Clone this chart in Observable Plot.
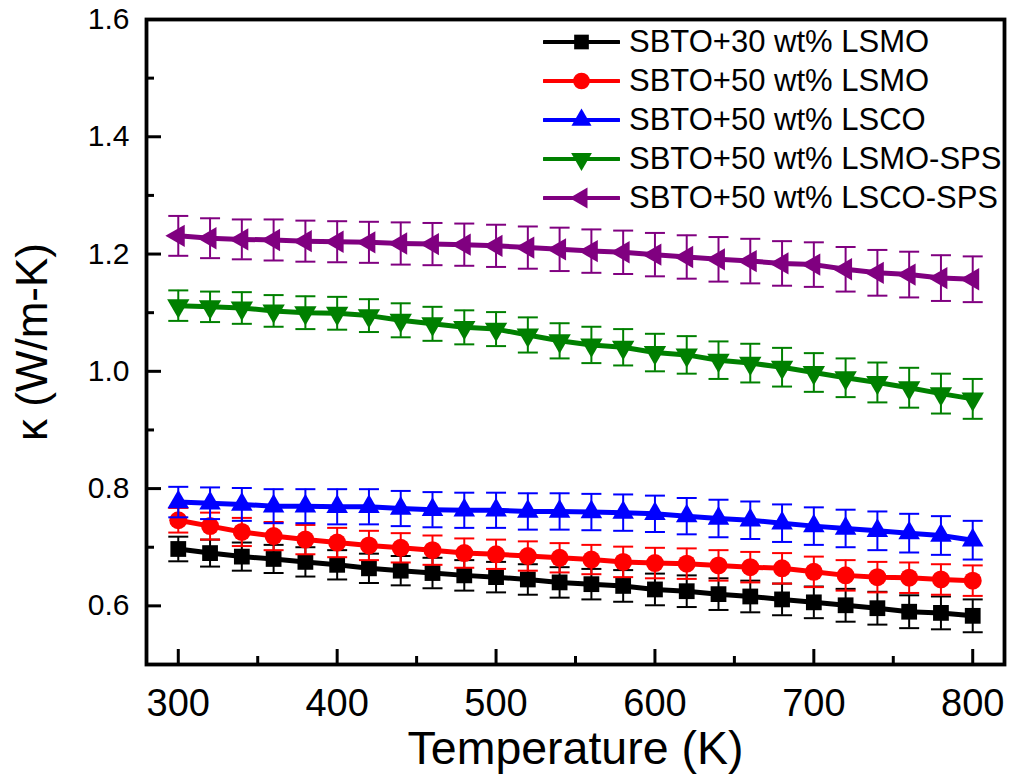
<!DOCTYPE html>
<html>
<head>
<meta charset="utf-8">
<script src="https://cdn.jsdelivr.net/npm/d3@7"></script>
<script src="https://cdn.jsdelivr.net/npm/@observablehq/plot@0.6"></script>
<style>
  html, body { margin: 0; padding: 0; background: #fff; }
  #wrap { position: relative; width: 1011px; height: 782px; font-family: "Liberation Sans", Arial, sans-serif; }
  #legend { position: absolute; left: 543px; top: 22px; }
  .row { display: flex; align-items: center; height: 39px; }
  .row span { font-size: 31px; margin-left: 9px; color: #000; white-space: nowrap; }
</style>
</head>
<body>
<div id="wrap"><div id="legend"></div></div>
<script>
// ---- data ----
const temperature = [300,320,340,360,380,400,420,440,460,480,500,520,540,560,580,600,620,640,660,680,700,720,740,760,780,800];

const seriesNames = ["SBTO+30 wt% LSMO","SBTO+50 wt% LSMO","SBTO+50 wt% LSCO","SBTO+50 wt% LSMO-SPS","SBTO+50 wt% LSCO-SPS"];
const seriesColors = ["#000000","#ff0000","#0000ff","#008000","#800080"];

const kLSMO30 = [0.697,0.690,0.684,0.680,0.675,0.670,0.664,0.660,0.656,0.652,0.649,0.645,0.640,0.637,0.634,0.628,0.625,0.620,0.616,0.611,0.606,0.601,0.596,0.590,0.588,0.583];
const eLSMO30 = [0.021,0.023,0.024,0.024,0.025,0.025,0.025,0.025,0.026,0.026,0.026,0.026,0.026,0.026,0.027,0.027,0.027,0.027,0.027,0.027,0.027,0.028,0.028,0.028,0.028,0.028];

const kLSMO50 = [0.746,0.736,0.726,0.719,0.713,0.708,0.703,0.699,0.695,0.690,0.688,0.685,0.682,0.679,0.675,0.673,0.672,0.669,0.666,0.664,0.658,0.652,0.649,0.648,0.645,0.643];
const eLSMO50 = [0.021,0.023,0.024,0.024,0.025,0.025,0.025,0.025,0.025,0.025,0.025,0.025,0.025,0.025,0.026,0.026,0.026,0.026,0.026,0.026,0.026,0.026,0.026,0.026,0.026,0.026];

const kLSCO50 = [0.777,0.775,0.773,0.770,0.770,0.769,0.769,0.766,0.764,0.763,0.763,0.761,0.761,0.760,0.759,0.757,0.753,0.749,0.746,0.741,0.736,0.732,0.728,0.724,0.720,0.712];
const eLSCO50 = [0.026,0.027,0.028,0.029,0.029,0.030,0.030,0.030,0.030,0.030,0.030,0.031,0.031,0.031,0.031,0.031,0.031,0.032,0.032,0.032,0.032,0.032,0.033,0.033,0.033,0.033];

const kLSMOSPS = [1.112,1.110,1.108,1.103,1.100,1.099,1.095,1.087,1.081,1.075,1.072,1.062,1.052,1.045,1.041,1.032,1.028,1.019,1.014,1.007,0.998,0.989,0.981,0.972,0.962,0.953];
const eLSMOSPS = [0.026,0.026,0.027,0.027,0.028,0.028,0.028,0.029,0.029,0.029,0.029,0.030,0.030,0.031,0.031,0.032,0.032,0.032,0.033,0.033,0.033,0.033,0.034,0.034,0.034,0.034];

const kLSCOSPS = [1.231,1.227,1.225,1.224,1.222,1.221,1.220,1.218,1.217,1.216,1.214,1.211,1.208,1.205,1.203,1.199,1.195,1.191,1.188,1.184,1.182,1.174,1.168,1.165,1.159,1.157];
const eLSCOSPS = [0.034,0.034,0.034,0.035,0.035,0.035,0.035,0.036,0.036,0.036,0.036,0.036,0.037,0.037,0.037,0.037,0.037,0.038,0.038,0.038,0.038,0.038,0.039,0.039,0.039,0.039];

const xMajorTicks = [300,400,500,600,700,800];
const xMinorTicks = [350,450,550,650,750];
const yMajorTicks = [0.6,0.8,1.0,1.2,1.4,1.6];
const yMinorTicks = [0.5,0.7,0.9,1.1,1.3,1.5];

const xTitle = "Temperature (K)";
const yTitle = "κ (W/m-K)";

// ---- build ----
const values = [kLSMO30,kLSMO50,kLSCO50,kLSMOSPS,kLSCOSPS];
const errors = [eLSMO30,eLSMO50,eLSCO50,eLSMOSPS,eLSCOSPS];
const symbols = ["square","circle","triangle","triangle","triangle"];
const rotations = [0,0,0,180,-90];
const radii = [8.9,9,8,8.3,8.3];

const capSymbol = {draw(ctx) { ctx.moveTo(-10, 0); ctx.lineTo(10, 0); }};

const seriesMarks = [];
values.forEach((vals, i) => {
  const rows = temperature.map((t, j) => ({T: t, k: vals[j], lo: vals[j] - errors[i][j], hi: vals[j] + errors[i][j]}));
  const c = seriesColors[i];
  seriesMarks.push(
    Plot.ruleX(rows, {x: "T", y1: "lo", y2: "hi", stroke: c, strokeWidth: 2}),
    Plot.dot(rows, {x: "T", y: "lo", symbol: capSymbol, stroke: c, strokeWidth: 2, fill: "none"}),
    Plot.dot(rows, {x: "T", y: "hi", symbol: capSymbol, stroke: c, strokeWidth: 2, fill: "none"}),
    Plot.line(rows, {x: "T", y: "k", stroke: c, strokeWidth: 5}),
    Plot.dot(rows, {x: "T", y: "k", symbol: symbols[i], rotate: rotations[i], r: radii[i], fill: c, stroke: "none"})
  );
});

const font = "'Liberation Sans', Arial, sans-serif";

const chart = Plot.plot({
  width: 1011,
  height: 782,
  marginLeft: 146,
  marginRight: 7,
  marginTop: 19,
  marginBottom: 118,
  style: {fontFamily: font, background: "white", color: "black", overflow: "visible"},
  x: {domain: [280, 820]},
  y: {domain: [0.5, 1.6]},
  marks: [
    ...seriesMarks,
    Plot.axisX(xMajorTicks, {tickSize: -15, strokeWidth: 3, fill: "none", label: null}),
    Plot.axisX(xMinorTicks, {tickSize: -8, strokeWidth: 3, fill: "none", label: null}),
    Plot.axisY(yMajorTicks, {tickSize: -15, strokeWidth: 3, fill: "none", label: null}),
    Plot.axisY(yMinorTicks, {tickSize: -8, strokeWidth: 3, fill: "none", label: null}),
    Plot.axisX(xMajorTicks, {tickSize: 0, tickPadding: 25, fontSize: 38, label: null, tickFormat: d3.format("d")}),
    Plot.axisY(yMajorTicks, {tickSize: 0, tickPadding: 17, fontSize: 30, label: null, tickFormat: d3.format(".1f")}),
    Plot.frame({stroke: "black", strokeWidth: 3.8}),
    Plot.text([xTitle], {text: d => d, frameAnchor: "bottom", dy: 85, fontSize: 46.5, lineAnchor: "middle"}),
    Plot.text([yTitle], {text: d => d, frameAnchor: "left", textAnchor: "middle", dx: -114, rotate: -90, fontSize: 44, lineAnchor: "middle"})
  ]
});
document.getElementById("wrap").prepend(chart);

// ---- legend ----
const legend = document.getElementById("legend");
seriesNames.forEach((name, i) => {
  const row = document.createElement("div");
  row.className = "row";
  const svg = d3.create("svg").attr("width", 77).attr("height", 30);
  svg.append("line").attr("x1", 1).attr("x2", 76).attr("y1", 15).attr("y2", 15)
    .attr("stroke", seriesColors[i]).attr("stroke-width", 4).attr("stroke-linecap", "round");
  const symType = symbols[i] === "square" ? d3.symbolSquare : symbols[i] === "circle" ? d3.symbolCircle : d3.symbolTriangle;
  const rr = radii[i] * 0.93;
  svg.append("path").attr("d", d3.symbol(symType, Math.PI * rr * rr)())
    .attr("transform", `translate(38.5,15) rotate(${rotations[i]})`).attr("fill", seriesColors[i]);
  row.appendChild(svg.node());
  const span = document.createElement("span");
  span.textContent = name;
  row.appendChild(span);
  legend.appendChild(row);
});
</script>
</body>
</html>
